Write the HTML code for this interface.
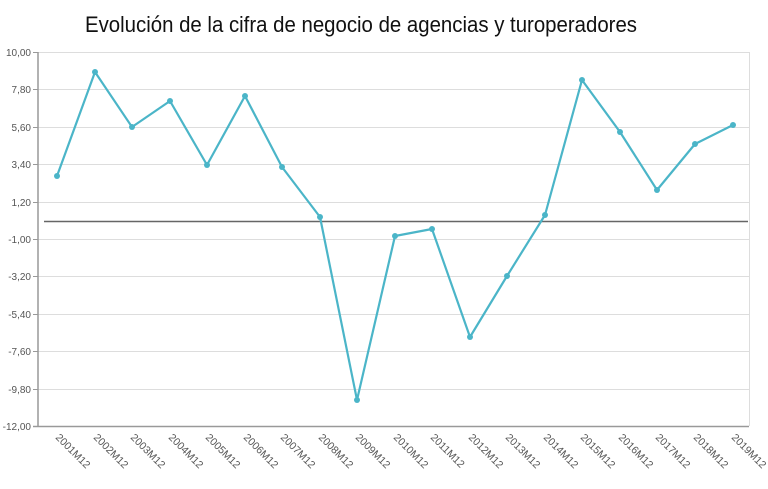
<!DOCTYPE html>
<html><head><meta charset="utf-8"><style>body{margin:0;background:#fff}svg{display:block}</style></head><body>
<svg width="768" height="489" xmlns="http://www.w3.org/2000/svg" font-family="Liberation Sans, sans-serif">
<text x="85" y="32" font-size="22" fill="#111" textLength="552" lengthAdjust="spacingAndGlyphs">Evolución de la cifra de negocio de agencias y turoperadores</text>
<g stroke="#ddd" stroke-width="1">
<line x1="38" x2="749" y1="52.5" y2="52.5"/><line x1="38" x2="749" y1="89.5" y2="89.5"/><line x1="38" x2="749" y1="127.5" y2="127.5"/><line x1="38" x2="749" y1="164.5" y2="164.5"/><line x1="38" x2="749" y1="202.5" y2="202.5"/><line x1="38" x2="749" y1="239.5" y2="239.5"/><line x1="38" x2="749" y1="276.5" y2="276.5"/><line x1="38" x2="749" y1="314.5" y2="314.5"/><line x1="38" x2="749" y1="351.5" y2="351.5"/><line x1="38" x2="749" y1="389.5" y2="389.5"/>
<line x1="749.5" x2="749.5" y1="52" y2="426"/>
</g>
<g stroke="#999" stroke-width="1.5"><line x1="38" x2="38" y1="52" y2="427"/><line x1="33" x2="749" y1="426.5" y2="426.5"/></g>
<g stroke="#999"><line x1="33" x2="38" y1="52.5" y2="52.5"/><line x1="33" x2="38" y1="89.5" y2="89.5"/><line x1="33" x2="38" y1="127.5" y2="127.5"/><line x1="33" x2="38" y1="164.5" y2="164.5"/><line x1="33" x2="38" y1="202.5" y2="202.5"/><line x1="33" x2="38" y1="239.5" y2="239.5"/><line x1="33" x2="38" y1="276.5" y2="276.5"/><line x1="33" x2="38" y1="314.5" y2="314.5"/><line x1="33" x2="38" y1="351.5" y2="351.5"/><line x1="33" x2="38" y1="389.5" y2="389.5"/></g>
<line x1="44" x2="748" y1="221.5" y2="221.5" stroke="#666" stroke-width="1.5"/>
<g font-size="10" fill="#555" text-anchor="end">
<text x="31" y="56">10,00</text><text x="31" y="93">7,80</text><text x="31" y="131">5,60</text><text x="31" y="168">3,40</text><text x="31" y="206">1,20</text><text x="31" y="243">-1,00</text><text x="31" y="280">-3,20</text><text x="31" y="318">-5,40</text><text x="31" y="355">-7,60</text><text x="31" y="393">-9,80</text><text x="31" y="430">-12,00</text>
</g>
<polyline fill="none" stroke="#4bb5c8" stroke-width="2.2" stroke-linejoin="round" points="57,176 95,72 132,127 170,101 207,165 245,96 282,167 320,217 357,400 395,236 432,229 470,337 507,276 545,215 582,80 620,132 657,190 695,144 733,125"/>
<g fill="#4bb5c8">
<circle cx="57" cy="176" r="3"/><circle cx="95" cy="72" r="3"/><circle cx="132" cy="127" r="3"/><circle cx="170" cy="101" r="3"/><circle cx="207" cy="165" r="3"/><circle cx="245" cy="96" r="3"/><circle cx="282" cy="167" r="3"/><circle cx="320" cy="217" r="3"/><circle cx="357" cy="400" r="3"/><circle cx="395" cy="236" r="3"/><circle cx="432" cy="229" r="3"/><circle cx="470" cy="337" r="3"/><circle cx="507" cy="276" r="3"/><circle cx="545" cy="215" r="3"/><circle cx="582" cy="80" r="3"/><circle cx="620" cy="132" r="3"/><circle cx="657" cy="190" r="3"/><circle cx="695" cy="144" r="3"/><circle cx="733" cy="125" r="3"/>
</g>
<g font-size="10.5" fill="#555">
<text transform="translate(55,438) rotate(45)">2001M12</text><text transform="translate(93,438) rotate(45)">2002M12</text><text transform="translate(130,438) rotate(45)">2003M12</text><text transform="translate(168,438) rotate(45)">2004M12</text><text transform="translate(205,438) rotate(45)">2005M12</text><text transform="translate(243,438) rotate(45)">2006M12</text><text transform="translate(280,438) rotate(45)">2007M12</text><text transform="translate(318,438) rotate(45)">2008M12</text><text transform="translate(355,438) rotate(45)">2009M12</text><text transform="translate(393,438) rotate(45)">2010M12</text><text transform="translate(430,438) rotate(45)">2011M12</text><text transform="translate(468,438) rotate(45)">2012M12</text><text transform="translate(505,438) rotate(45)">2013M12</text><text transform="translate(543,438) rotate(45)">2014M12</text><text transform="translate(580,438) rotate(45)">2015M12</text><text transform="translate(618,438) rotate(45)">2016M12</text><text transform="translate(655,438) rotate(45)">2017M12</text><text transform="translate(693,438) rotate(45)">2018M12</text><text transform="translate(731,438) rotate(45)">2019M12</text>
</g>
</svg>
</body></html>
